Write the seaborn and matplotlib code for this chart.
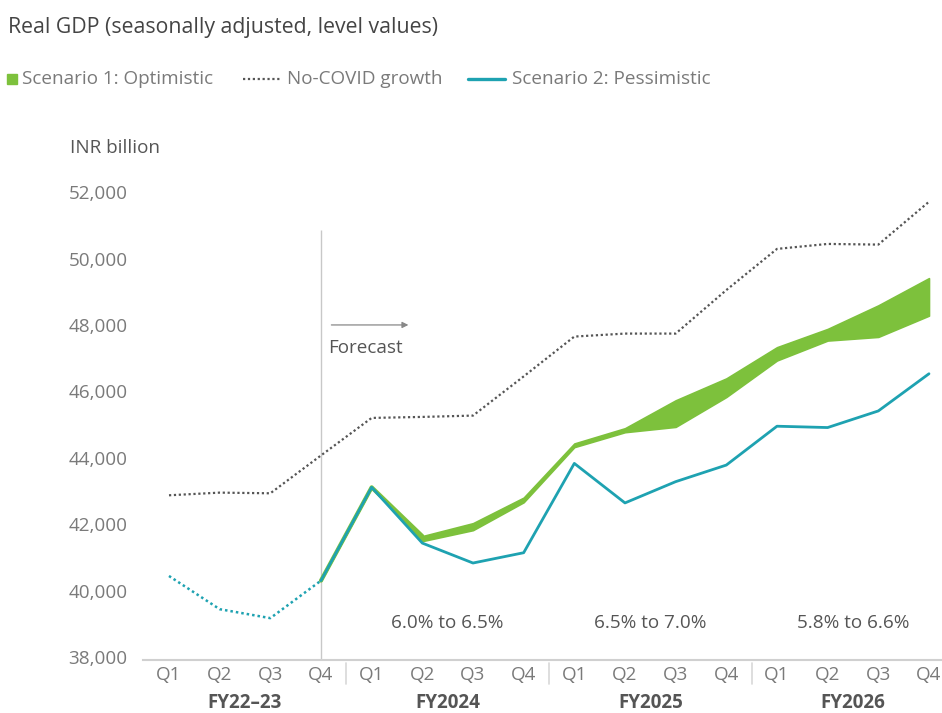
import matplotlib
matplotlib.use("Agg")
import matplotlib.pyplot as plt
from matplotlib.lines import Line2D
from matplotlib import font_manager
import numpy as np
import pandas as pd
import seaborn as sns

# ---- data (INR billion, seasonally adjusted real GDP) ----
quarters = ["Q1", "Q2", "Q3", "Q4"] * 4
fiscal_years = ["FY22\u201323", "FY2024", "FY2025", "FY2026"]
growth_ranges = ["6.0% to 6.5%", "6.5% to 7.0%", "5.8% to 6.6%"]

no_covid = [42870, 42950, 42930, 44070, 45200, 45230, 45270, 46450,
            47650, 47740, 47740, 49050, 50290, 50440, 50420, 51710]
pessimistic = [40440, 39440, 39170, 40300, 43110, 41430, 40830, 41140,
               43830, 42640, 43280, 43780, 44950, 44910, 45410, 46530]
# optimistic range starts at the last actual quarter (FY22-23 Q4)
optimistic_high = [40300, 43110, 41640, 42030, 42800, 44430, 44890,
                   45730, 46390, 47330, 47880, 48590, 49410]
optimistic_low = [40300, 43110, 41490, 41820, 42660, 44320, 44770,
                  44930, 45830, 46930, 47530, 47640, 48280]

y_ticks = [38000, 40000, 42000, 44000, 46000, 48000, 50000, 52000]
series_names = ["Scenario 1: Optimistic", "No-COVID growth", "Scenario 2: Pessimistic"]

GREEN = "#7DC13C"
TEAL = "#1EA2B1"
DOT = "#555555"
GRAY_TXT = "#7a7a7a"
DARK_TXT = "#555555"
FS = 13.6

sns.set_theme(style="white")
plt.rcParams["font.family"] = ["Open Sans", "DejaVu Sans"]

# narrow bold face for the fiscal-year group labels, if one is installed
installed = {f.name for f in font_manager.fontManager.ttflist}
if "Liberation Sans Narrow" in installed:
    fy_family, fy_size = ["Liberation Sans Narrow"], 15.0
else:
    fy_family, fy_size = ["Open Sans", "DejaVu Sans"], 13.5

idx = np.arange(len(quarters))
hist_n = 4  # quarters with actual data
df = pd.DataFrame({"q": idx, "no_covid": no_covid, "pess": pessimistic})
opt = pd.DataFrame({"q": idx[hist_n - 1:], "hi": optimistic_high, "lo": optimistic_low})

W, H = 942, 713
fig = plt.figure(figsize=(W / 100, H / 100), dpi=100)
ax = fig.add_axes([0.1518, 0.0739, 0.8482, 0.6706])

# no-COVID counterfactual
sns.lineplot(data=df, x="q", y="no_covid", ax=ax, color=DOT, lw=1.6,
             linestyle=(0, (1, 1.2)))

# optimistic scenario band
ax.fill_between(opt["q"], opt["lo"], opt["hi"], color=GREEN, lw=1.2,
                edgecolor=GREEN, zorder=2)
sns.lineplot(data=opt.iloc[:3], x="q", y="hi", ax=ax, color=GREEN, lw=3.0, zorder=2)

# pessimistic scenario: actual (dotted) then forecast (solid)
sns.lineplot(data=df.iloc[:hist_n], x="q", y="pess", ax=ax, color=TEAL, lw=1.8,
             linestyle=(0, (1, 1.2)), zorder=3)
sns.lineplot(data=df.iloc[hist_n - 1:], x="q", y="pess", ax=ax, color=TEAL, lw=2.0,
             zorder=3)

ax.set_xlim(-0.513, 15.257)
ax.set_ylim(37900, 52300)
ax.set_xlabel("")
ax.set_ylabel("")

ax.set_yticks(y_ticks)
ax.set_yticklabels([f"{v:,}" for v in y_ticks])
ax.set_xticks(idx)
ax.set_xticklabels(quarters)
ax.tick_params(axis="y", length=0, pad=11, labelsize=FS, labelcolor=GRAY_TXT)
ax.tick_params(axis="x", length=0, pad=4, labelsize=FS, labelcolor=GRAY_TXT)

for s in ["top", "right", "left"]:
    ax.spines[s].set_visible(False)
ax.spines["bottom"].set_color("#d0d0d0")
ax.spines["bottom"].set_linewidth(1.5)

# forecast marker
ax.vlines(hist_n - 1, 37950, 50850, color="#c8c8c8", lw=1.0, zorder=1)
ax.annotate("", xy=(4.78, 48000), xytext=(3.15, 48000),
            arrowprops=dict(arrowstyle="-|>", color="#888888", lw=0.9,
                            mutation_scale=9))
ax.text(3.15, 47300, "Forecast", fontsize=FS, color=DARK_TXT, va="center", ha="left")

# fiscal-year group separators and labels
xt = ax.get_xaxis_transform()
for b in (3.5, 7.5, 11.5):
    ax.plot([b, b], [-0.005, -0.05], transform=xt, color="#d8d8d8", lw=1.2,
            clip_on=False)
for i, fy in enumerate(fiscal_years):
    ax.text(i * 4 + 1.5, -0.090, fy, transform=xt, ha="center", va="center",
            fontsize=fy_size, fontweight="bold", color=DARK_TXT, family=fy_family)
for i, g in enumerate(growth_ranges):
    ax.text(i * 4 + 5.5, 39020, g, ha="center", va="center", fontsize=FS,
            color=DARK_TXT)

# headings
fig.text(8 / W, 1 - 27 / H, "Real GDP (seasonally adjusted, level values)",
         fontsize=15.3, color="#444444", va="center", ha="left")
fig.text(70 / W, 1 - 148 / H, "INR billion", fontsize=FS, color=DARK_TXT,
         va="center", ha="left")

# legend row
ly = 1 - 79 / H
fig.add_artist(Line2D([12 / W], [ly], marker="s", markersize=7.5, color=GREEN,
                      linestyle="none"))
fig.add_artist(Line2D([243 / W, 281 / W], [ly, ly], color=DOT, lw=1.6,
                      linestyle=(0, (1, 1.2))))
fig.add_artist(Line2D([468 / W, 505 / W], [ly, ly], color=TEAL, lw=2.4))
for x0, name in zip((22, 287, 512), series_names):
    fig.text(x0 / W, ly, name, fontsize=FS, color=GRAY_TXT, va="center", ha="left")

fig.savefig("out.png", dpi=100)
